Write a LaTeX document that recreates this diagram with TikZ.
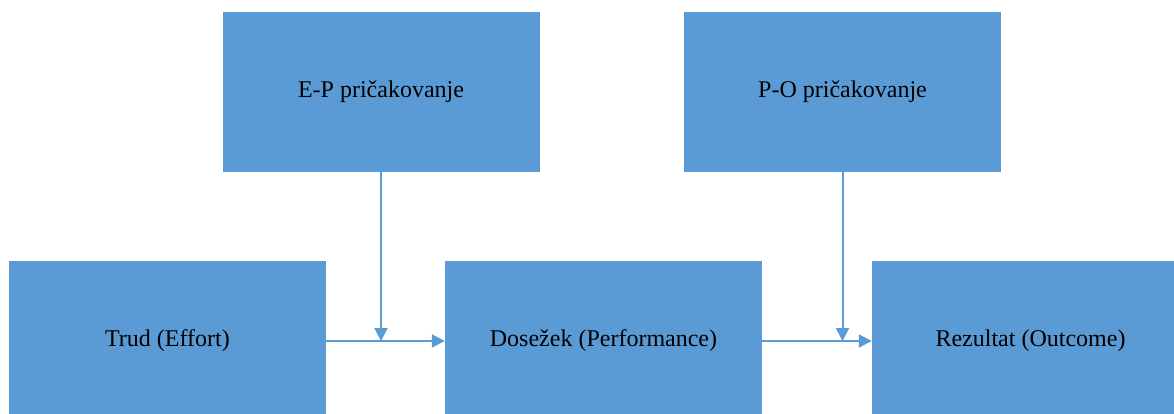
\documentclass[tikz,border=0pt]{standalone}
\usepackage{fontspec}
\setmainfont{Liberation Serif}
\usetikzlibrary{arrows.meta}
\definecolor{boxblue}{HTML}{5B9BD5}
\definecolor{linkblue}{HTML}{5B9BD5}
\begin{document}
\begin{tikzpicture}[x=1pt,y=-1pt,
  box/.style={rectangle, fill=boxblue, draw=none, minimum width=317pt, minimum height=160pt,
    inner sep=0pt, font=\fontsize{24}{28}\selectfont, text=black},
  link/.style={draw=linkblue, line width=2pt, -{Triangle[length=13pt,width=13pt]}}]
\useasboundingbox (0,0) rectangle (1174,414);
\clip (0,0) rectangle (1174,414);
\node[box] (ep)  at (381,92)    {E-P pričakovanje};
\node[box] (po)  at (842.5,92)  {P-O pričakovanje};
\node[box] (tr)  at (167.5,341) {Trud (Effort)};
\node[box] (ds)  at (603.5,341) {Dosežek (Performance)};
\node[box] (rz)  at (1030.5,341) {Rezultat (Outcome)};
\draw[link] (tr.east) -- (ds.west);
\draw[link] (ds.east) -- (rz.west);
\draw[link] (ep.south) -- (ep.south |- tr.east);
\draw[link] (po.south) -- (po.south |- ds.east);
\end{tikzpicture}
\end{document}
